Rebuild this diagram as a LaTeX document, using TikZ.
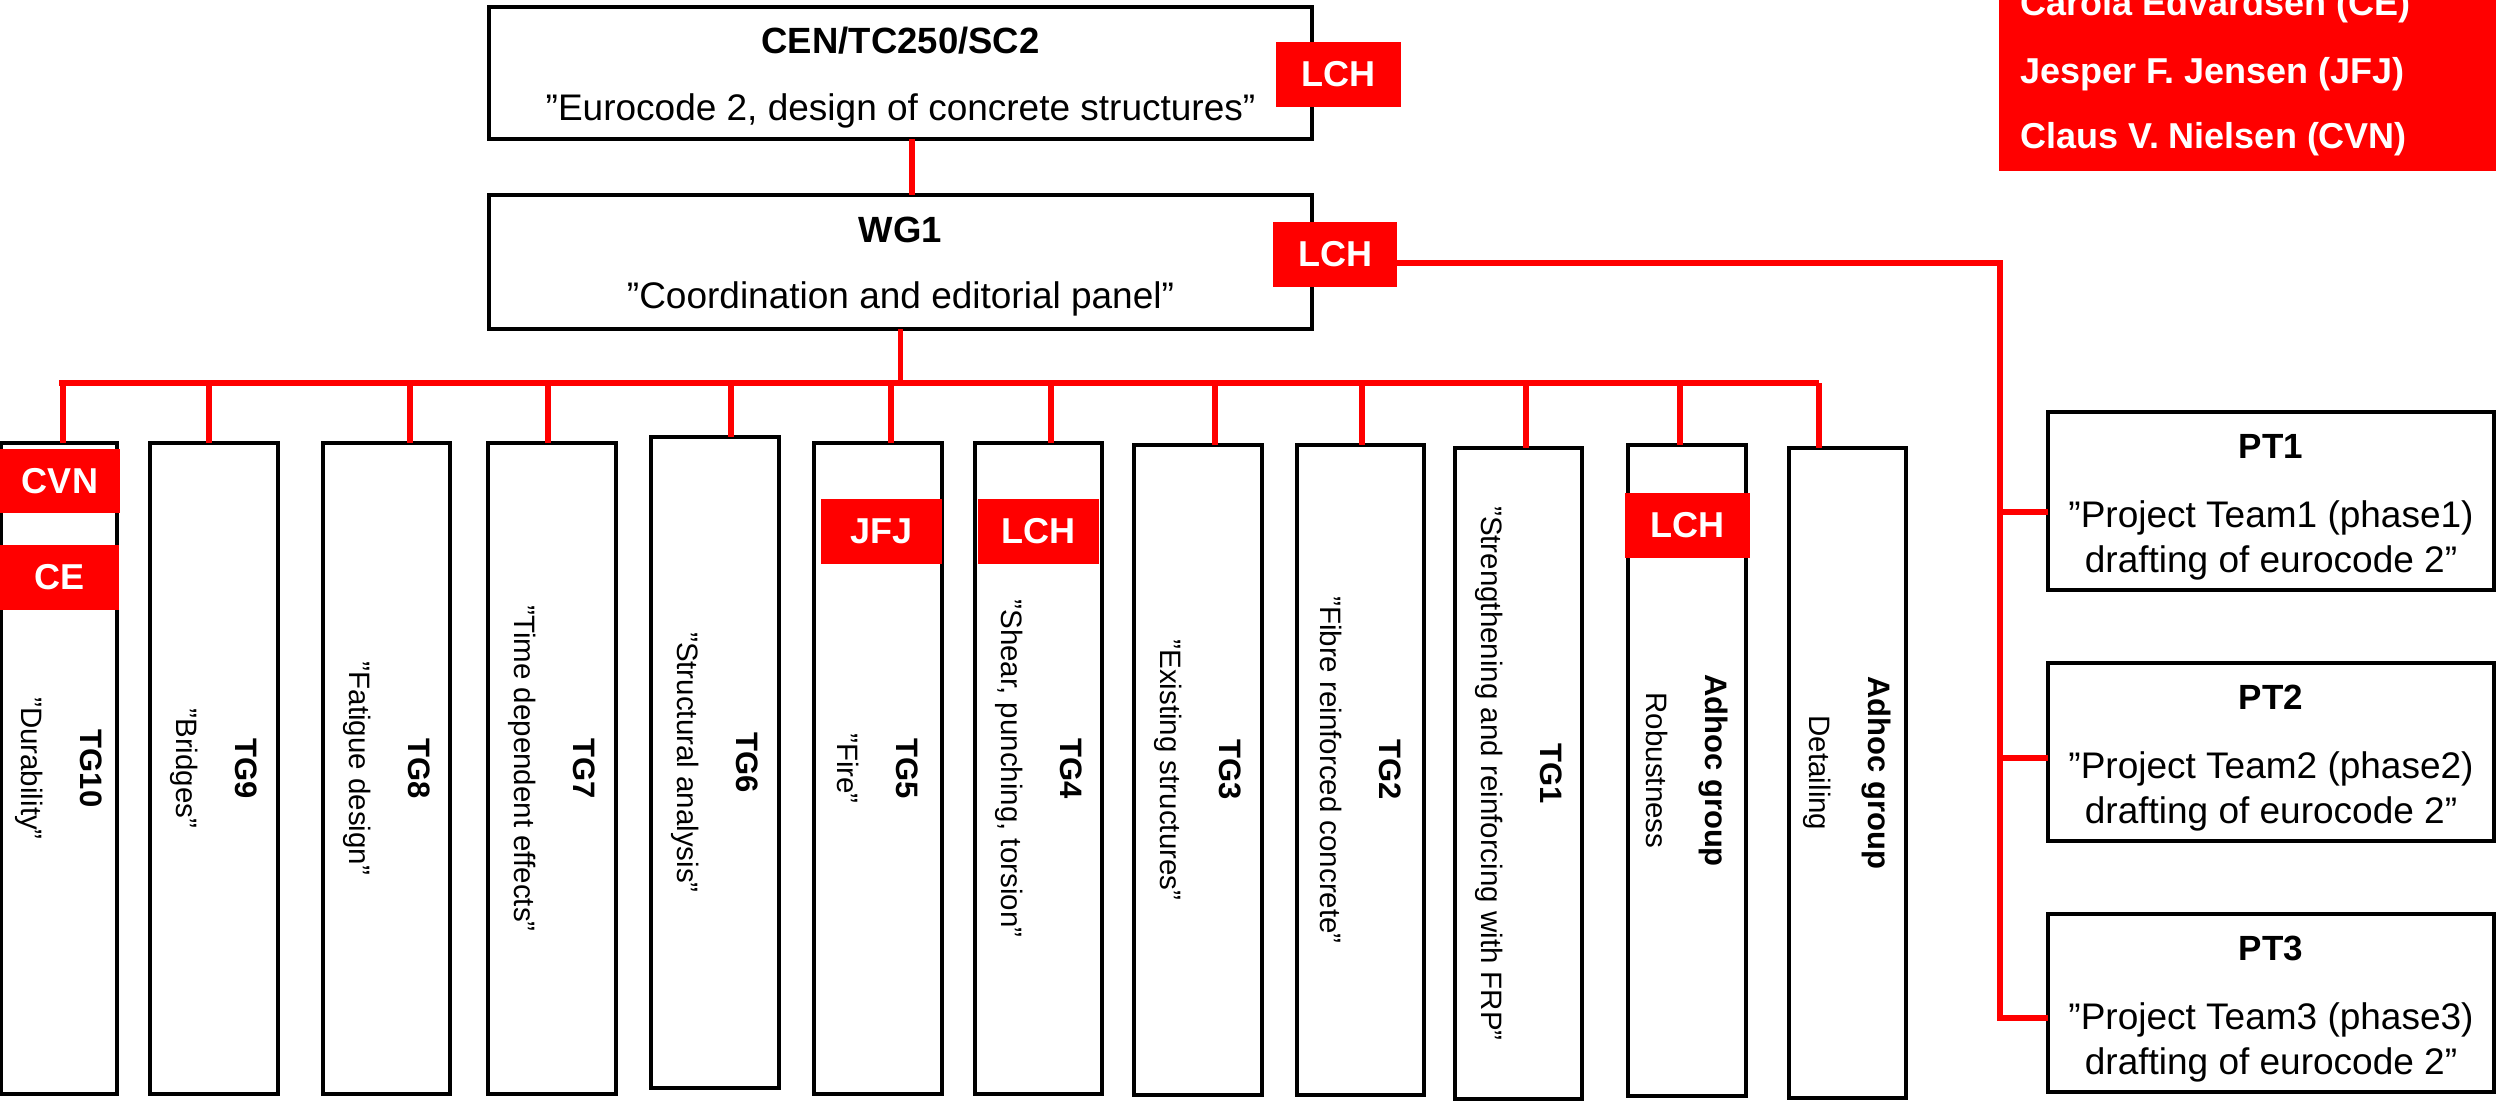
\documentclass[tikz,border=0pt]{standalone}
\usepackage{fontspec}
\setmainfont{Liberation Sans}
\tikzset{
  box/.style={draw=black, line width=3.5pt, fill=white, inner sep=0pt, outer sep=0pt},
  badge/.style={fill=red, inner sep=0pt, outer sep=0pt, minimum height=65pt, text=white, font=\fontsize{36}{42}\selectfont\bfseries},
  redline/.style={draw=red, line width=5.5pt},
  ttl/.style={font=\fontsize{36.5}{44}\selectfont\bfseries, inner sep=0pt, anchor=base},
  bodytxt/.style={font=\fontsize{37}{44}\selectfont, inner sep=0pt, anchor=base},
  pttl/.style={font=\fontsize{35}{42}\selectfont\bfseries, inner sep=0pt, anchor=base},
  tgtext/.style={rotate=-90, align=center, inner sep=0pt, font=\fontsize{29.5}{36}\selectfont},
  persname/.style={text=white, anchor=base west, inner sep=0pt, font=\fontsize{36}{44}\selectfont\bfseries},
}
\newcommand{\mkTG}[8]{%
  \node[box, minimum width={(#3)-(#2)}, minimum height={(#5)-(#4)}] (#1) at ({((#2)+(#3))/2},{((#4)+(#5))/2}) {};
  \node[tgtext] (#1t) at ([xshift=0pt]#1.center) {{\fontsize{31}{36}\selectfont\bfseries #7}\\[23pt]#8};
  \coordinate (d#1) at (#6,383);
}
\begin{document}
\begin{tikzpicture}[x=1pt,y=-1pt]
\useasboundingbox (0,0) rectangle (2496,1103);

% top boxes
\node[box, minimum width=823pt, minimum height=132pt] (cen) at (900.5,73) {};
\node[box, minimum width=823pt, minimum height=134pt] (wg1) at (900.5,262) {};
\node[ttl] (cent) at (900.5,53) {CEN/TC250/SC2};
\node[bodytxt] (cens) at (900.5,120) {”Eurocode 2, design of concrete structures”};
\node[ttl] (wg1t) at (900.5,242) {WG1};
\node[bodytxt] (wg1s) at (900.5,308) {”Coordination and editorial panel”};

% task groups
\mkTG{tg10}{1.5}{117}{443}{1094}{63}{TG10}{”Durability”}
\mkTG{tg9}{150}{278}{443}{1094}{209}{TG9}{”Bridges”}
\mkTG{tg8}{323}{450}{443}{1094}{410}{TG8}{”Fatigue design”}
\mkTG{tg7}{488}{616}{443}{1094}{548}{TG7}{”Time dependent effects”}
\mkTG{tg6}{651}{779}{437}{1088}{731}{TG6}{”Structural analysis”}
\mkTG{tg5}{814}{942}{443}{1094}{891}{TG5}{”Fire”}
\mkTG{tg4}{975}{1102}{443}{1094}{1051}{TG4}{”Shear, punching, torsion”}
\mkTG{tg3}{1134}{1262}{445}{1095}{1215}{TG3}{”Existing structures”}
\mkTG{tg2}{1297}{1424}{445}{1095}{1362}{TG2}{”Fibre reinforced concrete”}
\mkTG{tg1}{1455}{1582}{448}{1099}{1526}{TG1}{”Strengthening and reinforcing with FRP”}
\mkTG{adr}{1628}{1746}{445}{1096}{1680}{Adhoc group}{Robustness}
\mkTG{add}{1789}{1906}{448}{1098}{1819}{Adhoc group}{Detailing}

% project teams
\node[box, minimum width=446pt, minimum height=178pt] (pt1) at (2271,501) {};
\node[box, minimum width=446pt, minimum height=178pt] (pt2) at (2271,752) {};
\node[box, minimum width=446pt, minimum height=178pt] (pt3) at (2271,1003) {};
\node[pttl] (pt1a) at (2271,458) {PT1};
\node[bodytxt] (pt1b) at (2271,527) {”Project Team1 (phase1)};
\node[bodytxt] (pt1c) at (2271,572) {drafting of eurocode 2”};
\node[pttl] (pt2a) at (2271,709) {PT2};
\node[bodytxt] (pt2b) at (2271,778) {”Project Team2 (phase2)};
\node[bodytxt] (pt2c) at (2271,823) {drafting of eurocode 2”};
\node[pttl] (pt3a) at (2271,960) {PT3};
\node[bodytxt] (pt3b) at (2271,1029) {”Project Team3 (phase3)};
\node[bodytxt] (pt3c) at (2271,1074) {drafting of eurocode 2”};

% connectors
\coordinate (cwx) at (912,0);
\draw[redline] (cen.south -| cwx) -- (wg1.north -| cwx);
\coordinate (busL) at (59,383);
\coordinate (busR) at (1819,383);
\draw[redline] (busL) -- (busR);
\draw[redline] (wg1.south) -- (wg1.south |- busL);
\foreach \n in {tg10,tg9,tg8,tg7,tg6,tg5,tg4,tg3,tg2,tg1,adr,add}
  \draw[redline] (d\n) -- (d\n |- \n.north);

\coordinate (hubT) at (2000,263);
\coordinate (b1) at (2000,512);
\coordinate (b2) at (2000,758);
\coordinate (b3) at (2000,1018);
\node[badge, minimum width=124pt] (lch2) at (1335,254.5) {LCH};
\draw[redline, line join=miter] (lch2.east |- hubT) -- (hubT) -- (b3) -- (b3 -| pt3.west);
\draw[redline] (b1) -- (b1 -| pt1.west);
\draw[redline] (b2) -- (b2 -| pt2.west);

% badges
\node[badge, minimum width=125pt] (lch1) at (1338.5,74.5) {LCH};
\node[badge, minimum width=120pt, minimum height=64pt] (cvn) at (60,481) {CVN};
\node[badge, minimum width=119pt] (ce) at (59.5,577.5) {CE};
\node[badge, minimum width=121pt] (jfj) at (881.5,531.5) {JFJ};
\node[badge, minimum width=121pt] (lch4) at (1038.5,531.5) {LCH};
\node[badge, minimum width=125pt] (lchr) at (1687.5,525.5) {LCH};

% names box
\node[fill=red, inner sep=0pt, outer sep=0pt, minimum width=497pt, minimum height=191pt, anchor=south west] (names) at (1999,171) {};
\node[persname] (n1) at (2020,15) {Carola Edvardsen (CE)};
\node[persname] (n2) at (2020,83) {Jesper F. Jensen (JFJ)};
\node[persname] (n3) at (2020,148) {Claus V. Nielsen (CVN)};
\end{tikzpicture}
\end{document}
